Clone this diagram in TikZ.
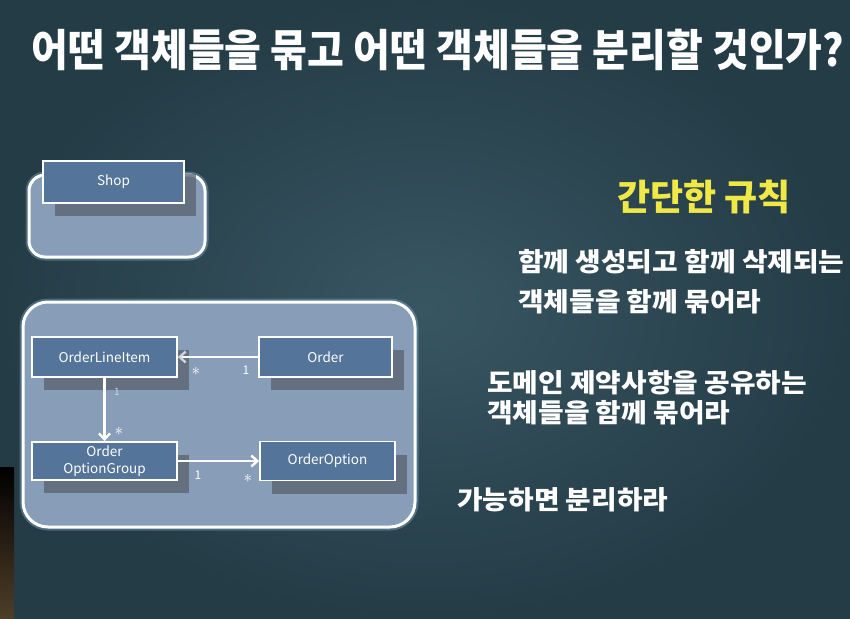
\documentclass[tikz,border=0pt]{standalone}
\usepackage{fontspec}
\setmainfont{Noto Sans CJK KR}
\usetikzlibrary{arrows.meta,positioning,shadows}

\definecolor{bgdark}{RGB}{36,60,70}
\definecolor{bglight}{RGB}{56,86,98}
\definecolor{grpfill}{RGB}{136,158,184}
\definecolor{boxfill}{RGB}{84,116,154}
\definecolor{shadowgray}{RGB}{88,96,108}
\definecolor{glowblue}{RGB}{150,190,220}
\definecolor{ruleyellow}{RGB}{240,232,70}
\definecolor{fadedwhite}{RGB}{205,212,222}

\tikzset{
  grpbox/.style={draw=white,line width=3pt,fill=grpfill,
    preaction={draw=glowblue,line width=7pt,opacity=0.35}},
  umlbox/.style={draw=white,line width=1.8pt,fill=boxfill,text=white,
    minimum height=40pt,font=\fontsize{13.5}{17}\selectfont,align=center,inner sep=2pt,
    drop shadow={shadow xshift=12pt,shadow yshift=-13pt,fill=shadowgray,opacity=0.75}},
  assoc/.style={draw=white,line width=2.4pt,-{Straight Barb[length=6pt,width=11pt,line width=2.4pt]}},
  mult/.style={text=white,font=\fontsize{12}{12}\selectfont,inner sep=0pt},
  many/.style={text=white,font=\fontsize{17}{17}\selectfont,inner sep=0pt},
  ruletext/.style={text=white,anchor=west,font=\fontsize{26}{26}\bfseries,inner sep=0pt,xscale=1.07},
}

\begin{document}
\begin{tikzpicture}[x=1pt,y=-1pt,>=Stealth]
  \useasboundingbox (0,0) rectangle (850,618);
  \clip (0,0) rectangle (850,618);
  % background
  \shade[inner color=bglight,outer color=bgdark] (0,0) rectangle (850,618);
  \shade[top color=black,bottom color={rgb,255:red,78;green,62;blue,40}] (0,467) rectangle (14,618);

  % title
  \node[text=white,font=\fontsize{40}{40}\bfseries,inner sep=0pt,yscale=1.1] (title) at (438,50)
    {어떤 객체들을 묶고 어떤 객체들을 분리할 것인가?};

  % groups
  \draw[grpbox,rounded corners=16pt] (29,175) rectangle (205,257);
  \draw[grpbox,rounded corners=25pt] (23,302) rectangle (415,527);

  % classes
  \node[umlbox,minimum width=141pt,minimum height=42pt] (shop) at (113.5,182) {Shop};
  \node[umlbox,minimum width=145pt] (oli) at (104.5,357) {OrderLineItem};
  \node[umlbox,minimum width=133pt] (ord) at (325.5,357) {Order};
  \node[umlbox,minimum width=145pt,minimum height=38pt] (oog) at (104.5,461) {Order\\OptionGroup};
  \node[umlbox,minimum width=135pt,minimum height=39pt] (oo) at (327.5,461) {OrderOption};

  % associations
  \draw[assoc,-{Straight Barb[length=6pt,width=11pt,line width=2.4pt,color=fadedwhite]}] (ord.west) -- (oli.east);
  \draw[assoc] (oli.south) -- (oog.north);
  \draw[assoc] (oog.east) -- (oo.west);

  % multiplicities
  \node[mult] (m1) at (246,370) {1};
  \node[many] (m2) at (196,371) {$\ast$};
  \node[mult,text=fadedwhite,font=\fontsize{10}{10}\selectfont] (m3) at (117,392) {1};
  \node[many] (m4) at (119,431) {$\ast$};
  \node[mult] (m5) at (198,475) {1};
  \node[many] (m6) at (248,478) {$\ast$};

  % rules
  \node[text=ruleyellow,font=\fontsize{36}{36}\bfseries,inner sep=0pt] (rules) at (704,197) {간단한 규칙};
  \node[ruletext] (r1a) at (518,262) {함께 생성되고 함께 삭제되는};
  \node[ruletext] (r1b) at (518,302) {객체들을 함께 묶어라};
  \node[ruletext] (r2a) at (487,383) {도메인 제약사항을 공유하는};
  \node[ruletext] (r2b) at (487,413) {객체들을 함께 묶어라};
  \node[ruletext] (r3) at (457,500) {가능하면 분리하라};
\end{tikzpicture}
\end{document}
